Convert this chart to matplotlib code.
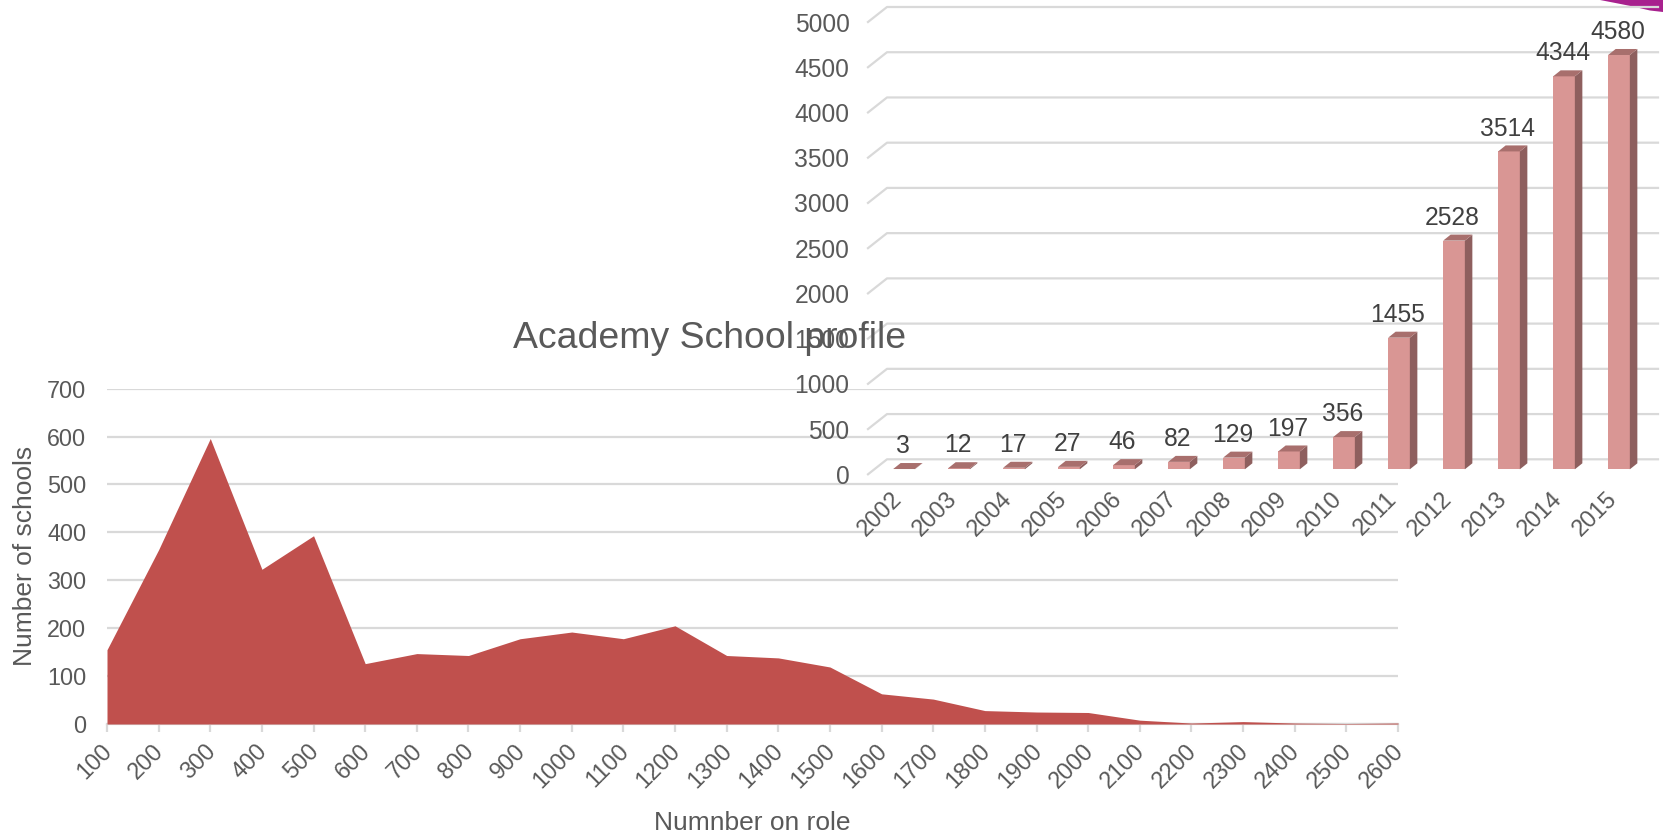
#!/usr/bin/env python
"""Academy school profile: area chart plus a pseudo 3D bar chart on top of it"""
import matplotlib
matplotlib.use("Agg")
import matplotlib.pyplot as plt
from matplotlib.patches import Polygon
from matplotlib.transforms import ScaledTranslation

plt.rcParams['font.family'] = ['Liberation Sans', 'DejaVu Sans']

W, H = 1663, 836

# 学校规模分布
roll_sizes = [100, 200, 300, 400, 500, 600, 700, 800, 900, 1000, 1100, 1200, 1300,
              1400, 1500, 1600, 1700, 1800, 1900, 2000, 2100, 2200, 2300, 2400, 2500, 2600]
school_counts = [155, 364, 596, 323, 393, 126, 147, 143, 178, 192, 178, 205, 143,
                 138, 119, 63, 52, 28, 25, 24, 8, 2, 5, 2, 1, 2]
count_ticks = [0, 100, 200, 300, 400, 500, 600, 700]

# 每年学校数量
years = [2002, 2003, 2004, 2005, 2006, 2007, 2008, 2009, 2010, 2011, 2012, 2013, 2014, 2015]
academies = [3, 12, 17, 27, 46, 82, 129, 197, 356, 1455, 2528, 3514, 4344, 4580]
academy_ticks = [0, 500, 1000, 1500, 2000, 2500, 3000, 3500, 4000, 4500, 5000]

GRID = '#D9D9D9'
TICK_TEXT = '#595959'
LABEL_TEXT = '#404040'
AREA = '#C0504D'
BAR_FRONT = '#D99694'
BAR_SIDE = '#8E5F5E'
BAR_TOP = '#A86F6D'
FONT = 16.8
FONT_BARS = 17.7
FONT_AXIS = 19.0


def px_axes(fig, left, right, top, bottom):
    """axes from pixel edges (y counted from the top of the image)"""
    return fig.add_axes([left / W, 1 - bottom / H, (right - left) / W, (bottom - top) / H])


def shift(fig, label, dx, dy):
    """move a tick label by some pixels"""
    off = ScaledTranslation(dx / 100, dy / 100, fig.dpi_scale_trans)
    label.set_transform(label.get_transform() + off)


fig = plt.figure(figsize=(W / 100, H / 100), dpi=100, facecolor='white')

# ---- area chart ----
ax = px_axes(fig, 107, 1398, 388.7, 724)
ax.fill_between(roll_sizes, school_counts, 0, color=AREA, lw=0, zorder=3)
ax.set_xlim(roll_sizes[0], roll_sizes[-1])
ax.set_ylim(0, count_ticks[-1])
ax.set_xticks(roll_sizes)
ax.set_yticks(count_ticks)
ax.grid(axis='y', color=GRID, lw=1.6, zorder=1)
ax.set_axisbelow(True)
for name in ['top', 'left', 'right']:
    ax.spines[name].set_visible(False)
ax.spines['bottom'].set_color(GRID)
ax.spines['bottom'].set_linewidth(1.6)
ax.tick_params(axis='y', length=0, pad=15, labelsize=FONT, labelcolor=TICK_TEXT)
ax.tick_params(axis='x', length=6, width=1.6, color=GRID, pad=5, labelsize=FONT, labelcolor=TICK_TEXT)
for label in ax.get_xticklabels():
    label.set_rotation(45)
    label.set_ha('right')
    label.set_va('top')
    label.set_rotation_mode('anchor')
    shift(fig, label, -6.5, 0)
ax.set_xlabel('Numnber on role', fontsize=FONT_AXIS, color=TICK_TEXT, labelpad=13)
ax.set_ylabel('Number of schools', fontsize=FONT_AXIS, color=TICK_TEXT, labelpad=7)

fig.text(710 / W, 1 - 339 / H, 'Academy School profile', fontsize=26.9, color=TICK_TEXT,
         ha='center', va='center')

# ---- bar chart ----
# 55 px per year, 0.09046 px per school, front floor at y=469.3
bx = px_axes(fig, 876.5, 1646.5, 469.3 - 5000 * 0.09046, 469.3)
bx.patch.set_alpha(0)
bx.set_xlim(-0.5, len(years) - 0.5)
bx.set_ylim(0, academy_ticks[-1])

bar_w = 21.7 / 55
depth_x = 7.5 / 55
depth_y = 6.0 / 0.09046
back_y = 10.0 / 0.09046
wall_left = -0.5 + 10.5 / 55
wall_right = len(years) - 0.5 + 11.5 / 55
wing = 19 / 55

for v in academy_ticks:
    # 背面网格线和左侧斜线
    bx.plot([wall_left - wing, wall_left, wall_right],
            [v + back_y - 15 / 0.09046, v + back_y, v + back_y],
            color=GRID, lw=1.6, clip_on=False, zorder=1, solid_joinstyle='round')

xs = list(range(len(years)))
bx.bar(xs, academies, width=bar_w, color=BAR_FRONT, lw=0, zorder=4)
for x, v in zip(xs, academies):
    x0, x1 = x - bar_w / 2, x + bar_w / 2
    bx.add_patch(Polygon([(x1, 0), (x1 + depth_x, depth_y), (x1 + depth_x, v + depth_y), (x1, v)],
                         closed=True, color=BAR_SIDE, lw=0, zorder=4, clip_on=False))
    bx.add_patch(Polygon([(x0, v), (x1, v), (x1 + depth_x, v + depth_y), (x0 + depth_x, v + depth_y)],
                         closed=True, color=BAR_TOP, lw=0, zorder=4, clip_on=False))
    bx.annotate(str(v), (x, v + depth_y), xytext=(-1, 3.5), textcoords='offset points',
                ha='center', va='bottom', fontsize=FONT_BARS, color=LABEL_TEXT, zorder=5,
                annotation_clip=False)

for name in ['top', 'left', 'right', 'bottom']:
    bx.spines[name].set_visible(False)
bx.set_xticks(xs)
bx.set_xticklabels(years)
bx.set_yticks(academy_ticks)
bx.tick_params(axis='y', length=0, pad=19.5, labelsize=FONT_BARS, labelcolor=TICK_TEXT)
bx.tick_params(axis='x', length=0, pad=14, labelsize=17, labelcolor=TICK_TEXT)
for label in bx.get_xticklabels():
    label.set_rotation(45)
    label.set_ha('right')
    label.set_va('top')
    label.set_rotation_mode('anchor')
    shift(fig, label, -13, 1)
for label in bx.get_yticklabels():
    shift(fig, label, 0, -5)

# 右上角紫色装饰
swoosh = [(1600, 0), (1618, 3.5), (1633, 6.5), (1650, 10.5), (1663, 12), (1663, 0)]
fig.add_artist(Polygon([(x / W, 1 - y / H) for x, y in swoosh], closed=True, color='#A8218E',
                       lw=0, transform=fig.transFigure, zorder=0))

fig.savefig('out.png', dpi=100)
